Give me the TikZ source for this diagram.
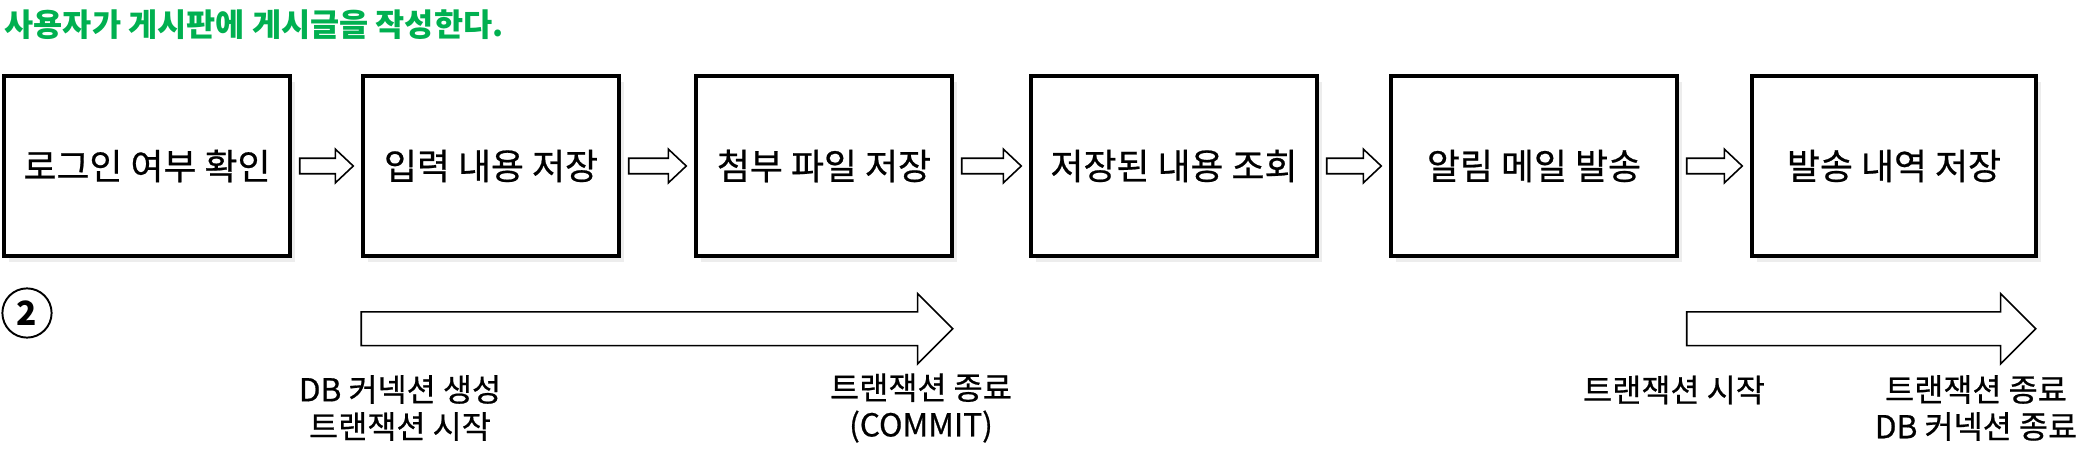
\documentclass[tikz,border=0pt]{standalone}
\usepackage{fontspec}
\setmainfont{Noto Sans CJK KR}
\newfontfamily\medfont{Noto Sans CJK KR}[FakeBold=0.6]
\usetikzlibrary{calc, shadows}
\definecolor{titlegreen}{RGB}{0,176,80}

\begin{document}
\begin{tikzpicture}[
  x=0.01cm, y=-0.01cm,
  task/.style={rectangle, draw, line width=0.95pt, fill=white, minimum height=1.8cm, inner sep=0pt,
    font=\medfont\fontsize{10.2pt}{12pt}\selectfont,
    drop shadow={opacity=0.14, shadow xshift=1.4pt, shadow yshift=-1.8pt}},
  note/.style={align=center, inner sep=0pt, font=\medfont\fontsize{9pt}{10.5pt}\selectfont},
  blockarrow/.style n args={3}{draw, line width=0.45pt,
    to path={let \p1=(\tikztostart), \p2=(\tikztotarget) in
      (\x1,{\y1+#1}) -- ({\x2-#3},{\y1+#1}) -- ({\x2-#3},{\y1+#2}) -- (\x2,\y1)
      -- ({\x2-#3},{\y1-#2}) -- ({\x2-#3},{\y1-#1}) -- (\x1,{\y1-#1}) -- cycle}},
  step arrow/.style={blockarrow={2.2pt}{4.8pt}{5.1pt}},
  span arrow/.style={blockarrow={4.8pt}{10pt}{10pt}}
]
\useasboundingbox (0,0) rectangle (2084,464);

% Title
\node[anchor=west, inner sep=0pt, text=titlegreen, font=\bfseries\fontsize{9pt}{10pt}\selectfont]
  (title) at (4,25) {사용자가 게시판에 게시글을 작성한다.};

% Nodes
\node[task, minimum width=2.86cm] (login) at (147,166) {로그인 여부 확인};
\node[task, minimum width=2.56cm] (input) at (491,166) {입력 내용 저장};
\node[task, minimum width=2.56cm] (attach) at (824,166) {첨부 파일 저장};
\node[task, minimum width=2.86cm] (query) at (1174,166) {저장된 내용 조회};
\node[task, minimum width=2.86cm] (mail) at (1534,166) {알림 메일 발송};
\node[task, minimum width=2.84cm] (log) at (1894,166) {발송 내역 저장};

% Flow
\draw[step arrow] ($(login.east)+(8,0)$) to ($(input.west)+(-8,0)$);
\draw[step arrow] ($(input.east)+(8,0)$) to ($(attach.west)+(-8,0)$);
\draw[step arrow] ($(attach.east)+(8,0)$) to ($(query.west)+(-8,0)$);
\draw[step arrow] ($(query.east)+(8,0)$) to ($(mail.west)+(-8,0)$);
\draw[step arrow] ($(mail.east)+(8,0)$) to ($(log.west)+(-8,0)$);

% Case number
\node[circle, draw, line width=0.55pt, minimum size=14pt, inner sep=0pt,
  font=\bfseries\fontsize{9.5pt}{9.5pt}\selectfont] (case) at (27,313) {2};

% Transactions
\draw[span arrow] ($(input.south west)+(0,71)$) to ($(attach.south east)+(-1,71)$);
\draw[span arrow] ($(mail.south east)+(8,71)$) to ($(log.south east)+(-2,71)$);

\node[note] (open1) at (400,408) {DB 커넥션 생성\\트랜잭션 시작};
\node[note] (close1) at (921,408) {트랜잭션 종료\\(COMMIT)};
\node[note] (open2) at (1674,390) {트랜잭션 시작};
\node[note] (close2) at (1976,408) {트랜잭션 종료\\DB 커넥션 종료};

\end{tikzpicture}
\end{document}
